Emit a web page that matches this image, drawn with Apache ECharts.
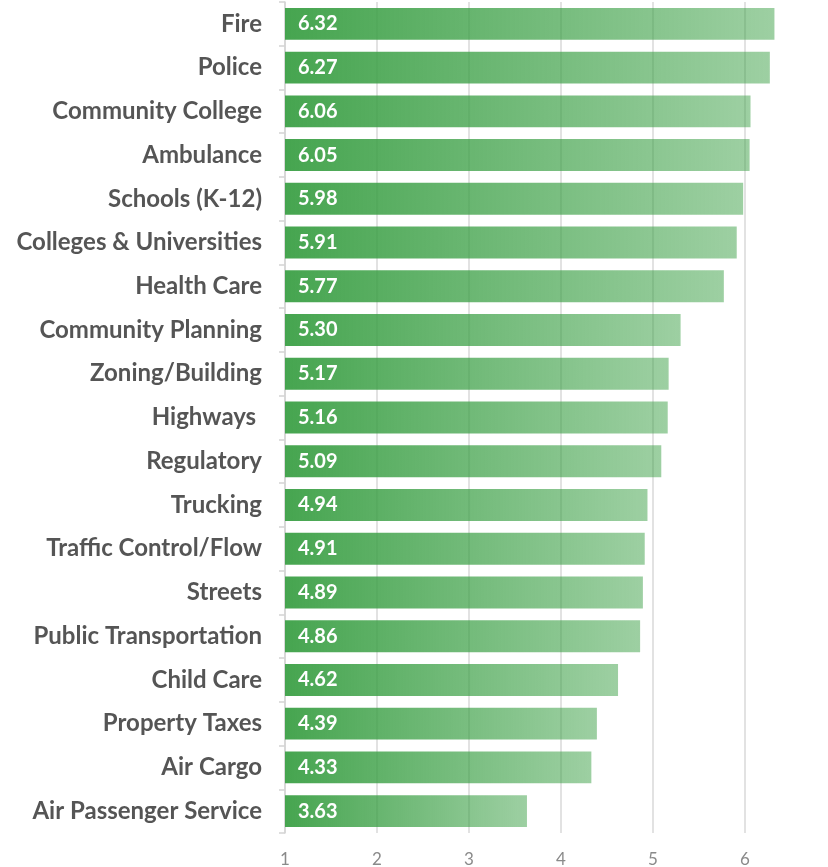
<!DOCTYPE html>
<html>
<head>
<meta charset="utf-8">
<script src="https://cdn.jsdelivr.net/npm/echarts@6/dist/echarts.min.js"></script>
<style>
html,body{margin:0;padding:0;background:#fff;}
#chart{width:828px;height:867px;}
</style>
</head>
<body>
<div id="chart"></div>
<script>
const categories = ["Fire","Police","Community College","Ambulance","Schools (K-12)","Colleges & Universities","Health Care","Community Planning","Zoning/Building","Highways ","Regulatory","Trucking","Traffic Control/Flow","Streets","Public Transportation","Child Care","Property Taxes","Air Cargo","Air Passenger Service"];
const values = [6.32,6.27,6.06,6.05,5.98,5.91,5.77,5.30,5.17,5.16,5.09,4.94,4.91,4.89,4.86,4.62,4.39,4.33,3.63];

const chart = echarts.init(document.getElementById('chart'));
chart.setOption({
  animation: false,
  grid: {left: 285, width: 552, top: 2, bottom: 34, containLabel: false, outerBoundsMode: 'none'},
  xAxis: {
    type: 'value', min: 1, max: 7, interval: 1,
    axisLine: {show: false}, axisTick: {show: false},
    axisLabel: {color: '#8a8a8a', fontSize: 17, fontFamily: 'Lato', margin: 18, showMaxLabel: false},
    splitLine: {show: true, lineStyle: {color: '#d9d9d9', width: 1.5}}
  },
  yAxis: {
    type: 'category', data: categories, inverse: true,
    axisLine: {show: true, lineStyle: {color: '#d4d4d4', width: 1.5}},
    axisTick: {show: true, length: 6, lineStyle: {color: '#d4d4d4', width: 1.5}},
    axisLabel: {color: '#555', fontSize: 24, fontWeight: 'bold', fontFamily: 'Lato', margin: 23, padding: [4, 0, 0, 0]}
  },
  series: [{
    type: 'bar',
    data: values,
    barCategoryGap: '27%',
    itemStyle: {
      color: new echarts.graphic.LinearGradient(0, 0, 1, 0, [
        {offset: 0, color: 'rgba(60,160,70,0.95)'},
        {offset: 1, color: 'rgba(60,160,70,0.5)'}
      ])
    },
    label: {
      show: true, position: 'insideLeft', distance: 13,
      color: '#fff', fontSize: 20, fontWeight: 'bold', fontFamily: 'Lato',
      padding: [3, 0, 0, 0],
      formatter: p => p.value.toFixed(2)
    }
  }]
});
</script>
</body>
</html>
